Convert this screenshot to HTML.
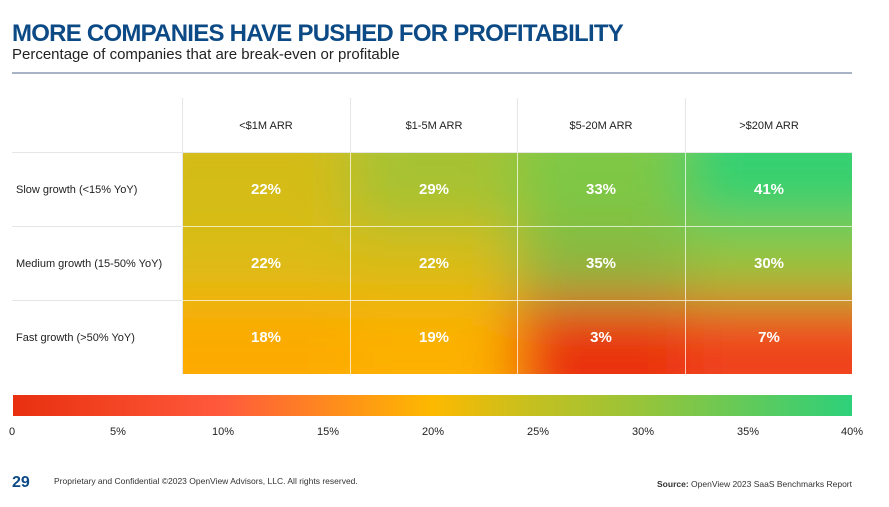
<!DOCTYPE html>
<html><head><meta charset="utf-8"><style>
body{margin:0;width:889px;height:507px;background:#fff;font-family:"Liberation Sans",sans-serif;overflow:hidden;position:relative}
.t{position:absolute;white-space:nowrap}
</style></head><body>
<div class="t" style="left:12px;top:20px;font-size:24px;font-weight:bold;color:#0c4a86;letter-spacing:-0.75px">MORE COMPANIES HAVE PUSHED FOR PROFITABILITY</div>
<div class="t" style="left:12px;top:46px;font-size:15px;color:#222">Percentage of companies that are break-even or profitable</div>
<div style="position:absolute;left:12px;top:72px;width:840px;height:2px;background:#a9b3c6"></div>
<svg style="position:absolute;left:0;top:0" width="889" height="507">
<defs>
<clipPath id="c"><rect x="182" y="152" width="670" height="222"/></clipPath>
<filter id="b" x="-20%" y="-20%" width="140%" height="140%"><feGaussianBlur stdDeviation="28"/></filter>
<linearGradient id="g" x1="0" x2="1">
<stop offset="0" stop-color="#e8300f"/><stop offset="0.25" stop-color="#ff5a3c"/><stop offset="0.5" stop-color="#fdb900"/><stop offset="0.62" stop-color="#c4c020"/><stop offset="0.75" stop-color="#96c43a"/><stop offset="1" stop-color="#2dd07a"/>
</linearGradient>
</defs>
<g clip-path="url(#c)"><g filter="url(#b)">
<rect x="120" y="100" width="230" height="126" fill="#d4bc16"/>
<rect x="350" y="100" width="167" height="126" fill="#a6c232"/>
<rect x="517" y="100" width="168" height="126" fill="#7ec845"/>
<rect x="685" y="100" width="230" height="126" fill="#34d070"/>
<rect x="120" y="226" width="230" height="74" fill="#dcbc12"/>
<rect x="350" y="226" width="167" height="74" fill="#d8bc14"/>
<rect x="517" y="226" width="168" height="74" fill="#8ab840"/>
<rect x="685" y="226" width="230" height="74" fill="#96c43a"/>
<rect x="120" y="300" width="230" height="130" fill="#fdaa00"/>
<rect x="350" y="300" width="167" height="130" fill="#fdb000"/>
<rect x="517" y="300" width="168" height="130" fill="#ea3010"/>
<rect x="685" y="300" width="230" height="130" fill="#f0421c"/>
</g></g>
<g stroke="#e6e6e6" stroke-width="1">
<line x1="182.5" y1="98" x2="182.5" y2="374"/>
<line x1="350.5" y1="98" x2="350.5" y2="152"/><line x1="517.5" y1="98" x2="517.5" y2="152"/><line x1="685.5" y1="98" x2="685.5" y2="152"/>
<line x1="12" y1="152.5" x2="852" y2="152.5"/><line x1="12" y1="226.5" x2="182" y2="226.5"/><line x1="12" y1="300.5" x2="182" y2="300.5"/>
</g>
<g stroke="#fff" stroke-opacity="0.7" stroke-width="1">
<line x1="350.5" y1="152" x2="350.5" y2="374"/><line x1="517.5" y1="152" x2="517.5" y2="374"/><line x1="685.5" y1="152" x2="685.5" y2="374"/>
<line x1="182" y1="226.5" x2="852" y2="226.5"/><line x1="182" y1="300.5" x2="852" y2="300.5"/>
</g>
<g font-size="11" fill="#222" text-anchor="middle">
<text x="266" y="129">&lt;$1M ARR</text><text x="434" y="129">$1-5M ARR</text><text x="601" y="129">$5-20M ARR</text><text x="769" y="129">&gt;$20M ARR</text>
</g>
<g font-size="11" fill="#222">
<text x="16" y="193">Slow growth (&lt;15% YoY)</text><text x="16" y="267">Medium growth (15-50% YoY)</text><text x="16" y="341">Fast growth (&gt;50% YoY)</text>
</g>
<g font-size="15" font-weight="bold" fill="#fff" text-anchor="middle">
<text x="266" y="194">22%</text><text x="434" y="194">29%</text><text x="601" y="194">33%</text><text x="769" y="194">41%</text>
<text x="266" y="268">22%</text><text x="434" y="268">22%</text><text x="601" y="268">35%</text><text x="769" y="268">30%</text>
<text x="266" y="342">18%</text><text x="434" y="342">19%</text><text x="601" y="342">3%</text><text x="769" y="342">7%</text>
</g>
<rect x="13" y="395" width="839" height="21" fill="url(#g)"/>
<g font-size="11" fill="#222" text-anchor="middle">
<text x="12" y="435">0</text><text x="118" y="435">5%</text><text x="223" y="435">10%</text><text x="328" y="435">15%</text><text x="433" y="435">20%</text><text x="538" y="435">25%</text><text x="643" y="435">30%</text><text x="748" y="435">35%</text><text x="852" y="435">40%</text>
</g>
<text x="12" y="487" font-size="16" font-weight="bold" fill="#0c4a86">29</text>
<text x="54" y="484" font-size="8.5" fill="#333">Proprietary and Confidential ©2023 OpenView Advisors, LLC. All rights reserved.</text>
<text x="852" y="487" font-size="8.5" fill="#333" text-anchor="end"><tspan font-weight="bold">Source:</tspan> OpenView 2023 SaaS Benchmarks Report</text>
</svg>
</body></html>
